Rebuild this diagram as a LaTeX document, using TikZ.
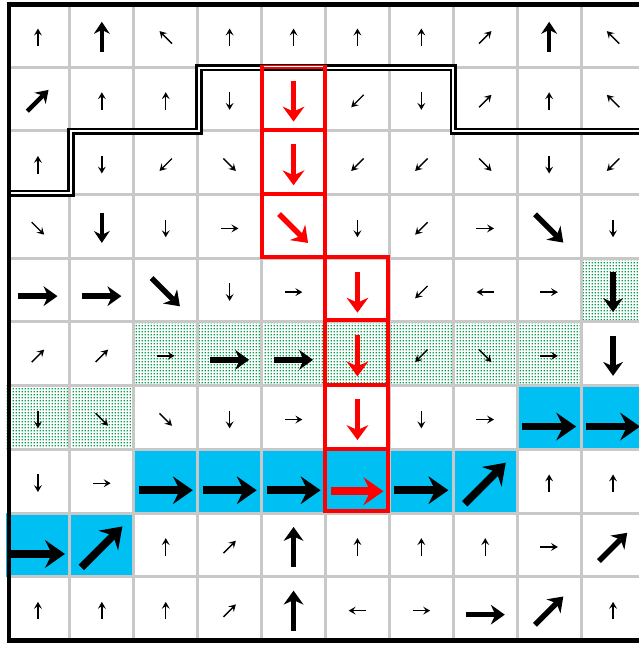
\documentclass[tikz,border=0pt]{standalone}
\usetikzlibrary{arrows.meta,patterns}
\definecolor{gridgray}{RGB}{200,200,200}
\definecolor{cellcyan}{RGB}{0,192,243}
\definecolor{dotgreen}{RGB}{0,160,75}
\definecolor{pathred}{RGB}{255,0,0}
\pgfdeclarepatternformonly{gdots}{\pgfqpoint{0pt}{0pt}}{\pgfqpoint{3pt}{3pt}}{\pgfqpoint{3pt}{3pt}}{%
  \pgfpathrectangle{\pgfqpoint{0.7pt}{0.7pt}}{\pgfqpoint{1.6pt}{1.6pt}}\pgfusepath{fill}}
\tikzset{
  sm/.style={line width=1.4pt, -{Stealth[length=7pt,width=8pt,inset=2.8pt,line width=0pt]}},
  mone/.style={line width=4.5pt, -{Stealth[length=12pt,width=16pt,inset=4pt,line width=0pt]}},
  mtwo/.style={line width=5.5pt, -{Stealth[length=14pt,width=20pt,inset=4.5pt,line width=0pt]}},
  big/.style={line width=7.5pt, -{Stealth[length=20pt,width=28pt,inset=7pt,line width=0pt]}},
  redm/.style={pathred, line width=5.5pt, -{Stealth[length=15pt,width=22pt,inset=5pt,line width=0pt]}},
  redbig/.style={pathred, line width=7.5pt, -{Stealth[length=20pt,width=28pt,inset=7pt,line width=0pt]}},
  gridline/.style={gridgray, line width=3pt},
  regionline/.style={draw=black, double=white, line width=2.6pt, double distance=2pt, line join=miter},
  redbox/.style={draw=pathred, line width=4pt, line join=miter},
  cyancell/.style={fill=cellcyan},
  greencell/.style={pattern=gdots, pattern color=dotgreen},
}
% #1 col, #2 row, #3 angle, #4 style, #5 half length, #6 downward offset
\newcommand\cellarrow[6]{%
  \coordinate (p#1x#2) at ({37.95+63.9*#1},{609.65-63.7*#2-#6});
  \draw[#4, shift={(p#1x#2)}] (#3:-#5) -- (#3:#5);}
\newcommand\Asm[3]{\cellarrow{#1}{#2}{#3}{sm}{8.8}{2}}
\newcommand\Amo[3]{\cellarrow{#1}{#2}{#3}{mone}{15}{1.5}}
\newcommand\Amt[3]{\cellarrow{#1}{#2}{#3}{mtwo}{20}{2}}
\newcommand\Amh[3]{\cellarrow{#1}{#2}{#3}{mtwo}{19.5}{6}}
\newcommand\Abh[3]{\cellarrow{#1}{#2}{#3}{big}{27}{9}}
\newcommand\Abd[3]{\cellarrow{#1}{#2}{#3}{big}{29}{2}}
\newcommand\Ard[3]{\cellarrow{#1}{#2}{#3}{redm}{20.5}{2}}
\newcommand\Arh[3]{\cellarrow{#1}{#2}{#3}{redbig}{26}{10}}
\newcommand\cellfill[3]{\path[#3] ({6+63.9*#1},{641.5-63.7*#2}) rectangle ({min(6+63.9*(#1+1),639)},{641.5-63.7*(#2+1)});}
\begin{document}
\begin{tikzpicture}[x=1pt,y=1pt]
\useasboundingbox (0,0) rectangle (639,645);
\fill[white] (0,0) rectangle (639,645);
% coloured cells
\cellfill{9}{4}{greencell}
\foreach \c in {2,...,8} {\cellfill{\c}{5}{greencell}}
\cellfill{0}{6}{greencell}
\cellfill{1}{6}{greencell}
\cellfill{8}{6}{cyancell}
\cellfill{9}{6}{cyancell}
\foreach \c in {2,...,7} {\cellfill{\c}{7}{cyancell}}
\cellfill{0}{8}{cyancell}
\cellfill{1}{8}{cyancell}
% grid
\foreach \k in {1,...,9} {
  \draw[gridline] ({6+63.9*\k},641) -- ({6+63.9*\k},4);
  \draw[gridline] (8,{641.5-63.7*\k}) -- (639,{641.5-63.7*\k});
}
% arrows row 0
\Asm{0}{0}{90} \Amo{1}{0}{90} \Asm{2}{0}{135} \Asm{3}{0}{90} \Asm{4}{0}{90}
\Asm{5}{0}{90} \Asm{6}{0}{90} \Asm{7}{0}{45} \Amo{8}{0}{90} \Asm{9}{0}{135}
% row 1
\Amo{0}{1}{45} \Asm{1}{1}{90} \Asm{2}{1}{90} \Asm{3}{1}{-90} \Ard{4}{1}{-90}
\Asm{5}{1}{-135} \Asm{6}{1}{-90} \Asm{7}{1}{45} \Asm{8}{1}{90} \Asm{9}{1}{135}
% row 2
\Asm{0}{2}{90} \Asm{1}{2}{-90} \Asm{2}{2}{-135} \Asm{3}{2}{-45} \Ard{4}{2}{-90}
\Asm{5}{2}{-135} \Asm{6}{2}{-135} \Asm{7}{2}{-45} \Asm{8}{2}{-90} \Asm{9}{2}{-135}
% row 3
\Asm{0}{3}{-45} \Amo{1}{3}{-90} \Asm{2}{3}{-90} \Asm{3}{3}{0} \Ard{4}{3}{-45}
\Asm{5}{3}{-90} \Asm{6}{3}{-135} \Asm{7}{3}{0} \Amt{8}{3}{-45} \Asm{9}{3}{-90}
% row 4
\Amh{0}{4}{0} \Amh{1}{4}{0} \Amt{2}{4}{-45} \Asm{3}{4}{-90} \Asm{4}{4}{0}
\Ard{5}{4}{-90} \Asm{6}{4}{-135} \Asm{7}{4}{180} \Asm{8}{4}{0} \Amt{9}{4}{-90}
% row 5
\Asm{0}{5}{45} \Asm{1}{5}{45} \Asm{2}{5}{0} \Amh{3}{5}{0} \Amh{4}{5}{0}
\Ard{5}{5}{-90} \Asm{6}{5}{-135} \Asm{7}{5}{-45} \Asm{8}{5}{0} \Amt{9}{5}{-90}
% row 6
\Asm{0}{6}{-90} \Asm{1}{6}{-45} \Asm{2}{6}{-45} \Asm{3}{6}{-90} \Asm{4}{6}{0}
\Ard{5}{6}{-90} \Asm{6}{6}{-90} \Asm{7}{6}{0} \Abh{8}{6}{0} \Abh{9}{6}{0}
% row 7
\Asm{0}{7}{-90} \Asm{1}{7}{0} \Abh{2}{7}{0} \Abh{3}{7}{0} \Abh{4}{7}{0}
\Arh{5}{7}{0} \Abh{6}{7}{0} \Abd{7}{7}{45} \Asm{8}{7}{90} \Asm{9}{7}{90}
% row 8
\Abh{0}{8}{0} \Abd{1}{8}{45} \Asm{2}{8}{90} \Asm{3}{8}{45} \Amt{4}{8}{90}
\Asm{5}{8}{90} \Asm{6}{8}{90} \Asm{7}{8}{90} \Asm{8}{8}{0} \Amt{9}{8}{45}
% row 9
\Asm{0}{9}{90} \Asm{1}{9}{90} \Asm{2}{9}{90} \Asm{3}{9}{45} \Amt{4}{9}{90}
\Asm{5}{9}{180} \Asm{6}{9}{0} \Amh{7}{9}{0} \Amt{8}{9}{45} \Asm{9}{9}{90}
% region boundary (double line)
\draw[regionline] (9,451.5) -- (71,451.5) -- (71,513.7) -- (199,513.7) -- (199,577.3)
  -- (453.4,577.3) -- (453.4,513.7) -- (645,513.7);
% red path cells
\draw[redbox] (261.7,578.3) rectangle (324.6,514.7);
\draw[redbox] (261.7,514.7) rectangle (324.6,450.8);
\draw[redbox] (261.7,450.8) rectangle (324.6,388);
\draw[redbox] (324.6,388) rectangle (388,324.5);
\draw[redbox] (324.6,324.5) rectangle (388,260);
\draw[redbox] (324.6,260) rectangle (388,196.1);
\draw[redbox] (324.6,196.1) rectangle (388,133.5);
\draw[white, line width=1.1pt] (263.5,578.6) -- (322.8,578.6);
% outer border
\draw[line width=5pt] (6.5,640.8) -- (645,640.8);
\draw[line width=5pt] (6.5,4.8) -- (645,4.8);
\draw[line width=4.3pt] (8.8,643.3) -- (8.8,2.3);
\end{tikzpicture}
\end{document}
